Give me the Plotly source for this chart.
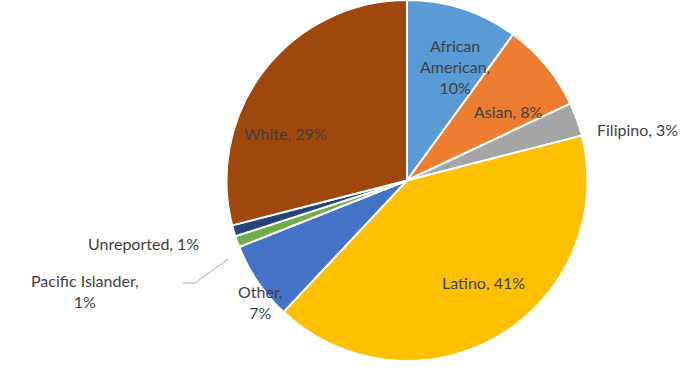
import plotly.graph_objects as go

categories = ["African American", "Asian", "Filipino", "Latino", "Other",
              "Pacific Islander", "Unreported", "White"]
values = [10, 8, 3, 41, 7, 1, 1, 29]
colors = ["#5B9BD5", "#ED7D31", "#A5A5A5", "#FFC000", "#4472C4",
          "#70AD47", "#264478", "#9E480E"]

# label layout: (x px, y px, line break pattern)
label_pos = {
    "African American": (455, 67, "African<br>American,<br>{v}%"),
    "Asian": (508, 111, "{c}, {v}%"),
    "Filipino": (637, 129, "{c}, {v}%"),
    "Latino": (484, 282, "{c}, {v}%"),
    "Other": (260, 302, "{c},<br>{v}%"),
    "Pacific Islander": (85, 291, "{c},<br>{v}%"),
    "Unreported": (143, 243, "{c}, {v}%"),
    "White": (285, 133, "{c}, {v}%"),
}

W, H = 698, 385

fig = go.Figure(go.Pie(
    labels=categories,
    values=values,
    sort=False,
    direction="clockwise",
    rotation=0,
    marker=dict(colors=colors, line=dict(color="white", width=2)),
    textinfo="none",
    hoverinfo="label+percent",
    showlegend=False,
    domain=dict(x=[224 / W, 590 / W], y=[1 - 361 / H, 1 - 0 / H]),
))

annotations = []
for c, v in zip(categories, values):
    x, y, tpl = label_pos[c]
    annotations.append(dict(
        x=x / W, y=1 - y / H, xref="paper", yref="paper",
        text=tpl.format(c=c, v=v), showarrow=False,
        xanchor="center", yanchor="middle",
        font=dict(family="Lato, Open Sans, sans-serif", size=16, color="#404040"),
    ))

fig.update_layout(
    width=W, height=H,
    margin=dict(l=0, r=0, t=0, b=0),
    paper_bgcolor="white",
    plot_bgcolor="white",
    annotations=annotations,
    shapes=[dict(
        type="path", xref="paper", yref="paper",
        path=f"M {183/W} {1-283/H} L {195/W} {1-283/H} L {228/W} {1-259/H}",
        line=dict(color="#A6A6A6", width=1),
    )],
)

fig.write_html("out.html", config={"displayModeBar": False},
               post_script="document.body.style.margin='0';")
